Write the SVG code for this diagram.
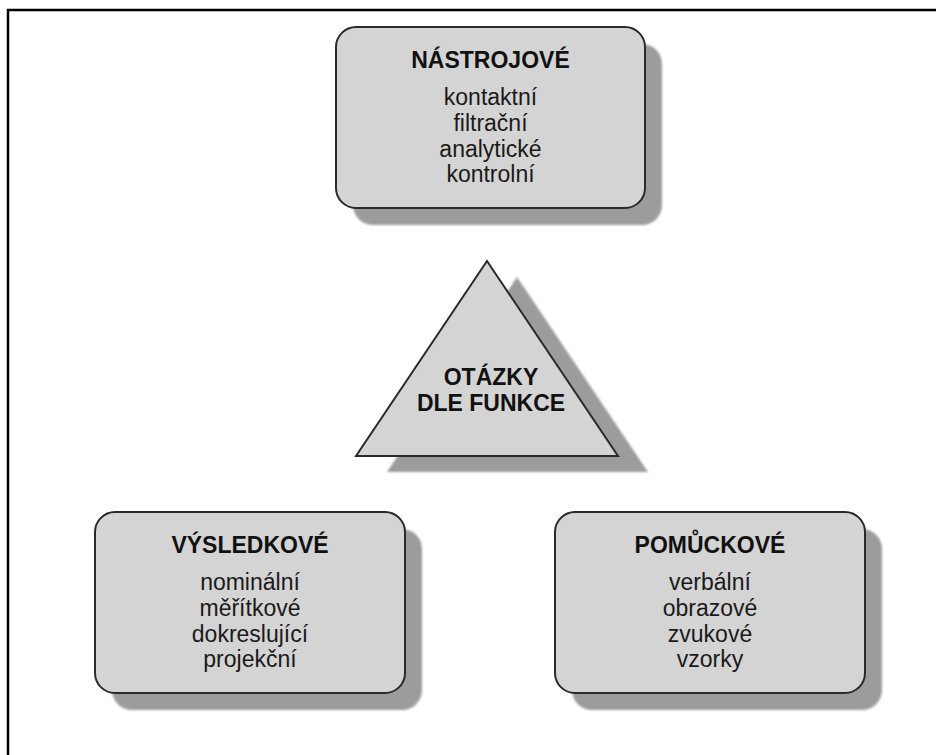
<svg xmlns="http://www.w3.org/2000/svg" width="936" height="755" viewBox="0 0 936 755">
  <style>
    .shadow { fill: #9c9c9c; }
    .box { fill: #d4d4d4; stroke: #2a2a2a; stroke-width: 2; }
    .title { font-family: "Liberation Sans", Arial, sans-serif; font-weight: bold; font-size: 23px; fill: #111; text-anchor: middle; }
    .item { font-family: "Liberation Sans", Arial, sans-serif; font-size: 23px; fill: #1a1a1a; text-anchor: middle; }
  </style>
  <defs>
    <filter id="soft" x="-5%" y="-5%" width="110%" height="110%">
      <feGaussianBlur stdDeviation="1"/>
    </filter>
  </defs>
  <rect width="936" height="755" fill="#ffffff"/>
  <!-- outer frame, open on the right and bottom -->
  <rect x="8" y="10" width="940" height="760" fill="none" stroke="#000" stroke-width="2.5"/>

  <g id="connectors"></g>

  <g id="nastrojove">
    <rect class="shadow" filter="url(#soft)" x="353" y="44" width="309" height="181" rx="20"/>
    <rect class="box" x="336" y="27" width="309" height="181" rx="20"/>
    <text class="title" x="490.5" y="68">NÁSTROJOVÉ</text>
    <text class="item" x="490.5" y="105">kontaktní</text>
    <text class="item" x="490.5" y="131">filtrační</text>
    <text class="item" x="490.5" y="157">analytické</text>
    <text class="item" x="490.5" y="182">kontrolní</text>
  </g>

  <g id="otazky">
    <polygon class="shadow" filter="url(#soft)" points="517,277 648,472 387,472"/>
    <polygon class="box" stroke-linejoin="miter" points="487,261 618,456 356,456"/>
    <text class="title" x="491" y="385">OTÁZKY</text>
    <text class="title" x="491" y="411">DLE FUNKCE</text>
  </g>

  <g id="vysledkove">
    <rect class="shadow" filter="url(#soft)" x="112" y="529" width="310" height="181" rx="20"/>
    <rect class="box" x="95" y="512" width="310" height="181" rx="20"/>
    <text class="title" x="250" y="553">VÝSLEDKOVÉ</text>
    <text class="item" x="250" y="590">nominální</text>
    <text class="item" x="250" y="616">měřítkové</text>
    <text class="item" x="250" y="642">dokreslující</text>
    <text class="item" x="250" y="667">projekční</text>
  </g>

  <g id="pomuckove">
    <rect class="shadow" filter="url(#soft)" x="572" y="529" width="310" height="181" rx="20"/>
    <rect class="box" x="555" y="512" width="310" height="181" rx="20"/>
    <text class="title" x="710" y="553">POMŮCKOVÉ</text>
    <text class="item" x="710" y="590">verbální</text>
    <text class="item" x="710" y="616">obrazové</text>
    <text class="item" x="710" y="642">zvukové</text>
    <text class="item" x="710" y="667">vzorky</text>
  </g>
</svg>
